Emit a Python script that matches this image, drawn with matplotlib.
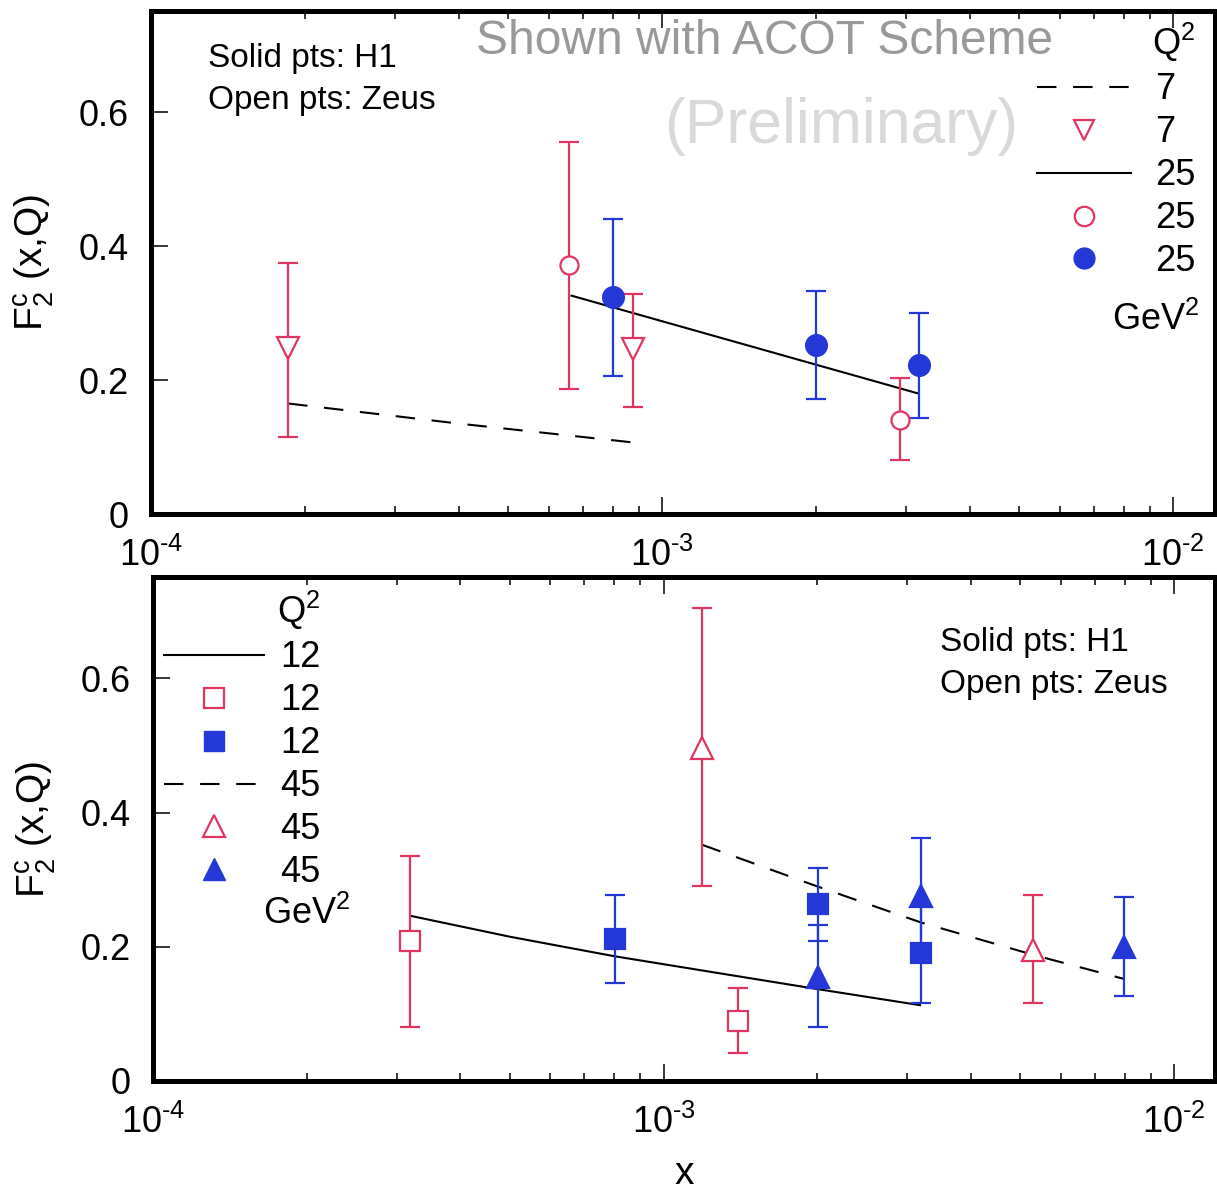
import numpy as np
import matplotlib
matplotlib.use("Agg")
import matplotlib.pyplot as plt
from matplotlib.lines import Line2D
from matplotlib.ticker import LogLocator, FixedLocator, NullFormatter, FuncFormatter

plt.rcParams['font.family'] = ['Liberation Sans', 'DejaVu Sans']
plt.rcParams['mathtext.fontset'] = 'custom'
plt.rcParams['mathtext.rm'] = 'Liberation Sans'
plt.rcParams['mathtext.it'] = 'Liberation Sans:italic'
plt.rcParams['mathtext.default'] = 'regular'
plt.rcParams['lines.scale_dashes'] = False

RED = '#e0355f'
BLUE = '#2338d6'

# ---- top panel data ----
# Zeus, Q2 = 7
z7_x = [1.855e-4, 8.79e-4]
z7_y = [0.248, 0.247]
z7_lo = [0.115, 0.160]
z7_hi = [0.375, 0.329]
# Zeus, Q2 = 25
z25_x = [6.59e-4, 2.92e-3]
z25_y = [0.372, 0.141]
z25_lo = [0.186, 0.080]
z25_hi = [0.556, 0.203]
# H1, Q2 = 25
h25_x = [8.0e-4, 2.0e-3, 3.19e-3]
h25_y = [0.324, 0.253, 0.222]
h25_lo = [0.206, 0.172, 0.143]
h25_hi = [0.441, 0.333, 0.300]
# ACOT curves
t7_x = [1.855e-4, 4.0e-4, 8.74e-4]
t7_y = [0.165, 0.135, 0.107]
t25_x = [6.65e-4, 2.0e-3, 3.17e-3]
t25_y = [0.326, 0.223, 0.180]

# ---- bottom panel data ----
# Zeus, Q2 = 12
z12_x = [3.19e-4, 1.40e-3]
z12_y = [0.208, 0.090]
z12_lo = [0.080, 0.042]
z12_hi = [0.336, 0.138]
# H1, Q2 = 12
h12_x = [8.04e-4, 2.005e-3, 3.2e-3]
h12_y = [0.211, 0.263, 0.190]
h12_lo = [0.146, 0.208, 0.116]
h12_hi = [0.277, 0.318, 0.264]
# Zeus, Q2 = 45
z45_x = [1.188e-3, 5.29e-3]
z45_y = [0.496, 0.195]
z45_lo = [0.290, 0.116]
z45_hi = [0.705, 0.277]
# H1, Q2 = 45
h45_x = [2.005e-3, 3.2e-3, 7.99e-3]
h45_y = [0.155, 0.275, 0.199]
h45_lo = [0.080, 0.184, 0.126]
h45_hi = [0.232, 0.362, 0.274]
# ACOT curves
t12_x = [3.2e-4, 5.0e-4, 8.0e-4, 1.3e-3, 2.0e-3, 3.18e-3]
t12_y = [0.246, 0.215, 0.186, 0.160, 0.137, 0.113]
t45_x = [1.19e-3, 2.0e-3, 3.2e-3, 5.3e-3, 7.99e-3]
t45_y = [0.352, 0.290, 0.236, 0.188, 0.152]

ytick_vals = [0, 0.2, 0.4, 0.6]
ytick_labels = ['0', '0.2', '0.4', '0.6']

W, H = 1217, 1192
fig = plt.figure(figsize=(W / 100, H / 100), dpi=100)

FS = 26
DASH = (0, (14, 12))


def fx(px):
    return px / W


def fy(py):
    return 1 - py / H


def errpts(ax, x, y, lo, hi, marker, color, filled, ms):
    y = np.array(y)
    yerr = [y - np.array(lo), np.array(hi) - y]
    ax.errorbar(x, y, yerr=yerr, fmt=marker, color=color, ms=ms,
                mfc=color if filled else 'white', mec=color, mew=1.6,
                elinewidth=1.6, capsize=7, capthick=1.6, zorder=3)


def style(ax, xlim):
    ax.set_xscale('log')
    ax.set_xlim(*xlim)
    ax.set_ylim(0, 0.751)
    for s in ax.spines.values():
        s.set_linewidth(3.6)
    ax.xaxis.set_major_locator(FixedLocator([1e-4, 1e-3, 1e-2]))
    ax.xaxis.set_minor_locator(LogLocator(base=10, subs=np.arange(2, 10)))
    ax.xaxis.set_minor_formatter(NullFormatter())
    ax.xaxis.set_major_formatter(FuncFormatter(
        lambda v, p: '10$^{\\text{%d}}$' % int(round(np.log10(v)))))
    ax.set_yticks(ytick_vals)
    ax.set_yticklabels(ytick_labels)
    ax.yaxis.set_minor_locator(FixedLocator([]))
    ax.tick_params(axis='x', which='major', direction='in', top=True,
                   length=12, width=1.1, pad=17, labelsize=FS)
    ax.tick_params(axis='x', which='minor', direction='in', top=True,
                   length=6, width=1.1)
    ax.tick_params(axis='y', which='major', direction='in', right=False,
                   length=12, width=1.1, pad=16, labelsize=FS)
    ax.set_ylabel('F$_2^c$ (x,Q)', fontsize=28, labelpad=16)


# ---------------- top panel ----------------
ax1 = fig.add_axes([fx(151), fy(514), fx(1215 - 151), (514 - 11) / H])
style(ax1, (1e-4, 1.208e-2))
ax1.plot(t7_x, t7_y, color='black', lw=1.5, ls=DASH, zorder=2)
ax1.plot(t25_x, t25_y, color='black', lw=1.5, zorder=2)
errpts(ax1, z7_x, z7_y, z7_lo, z7_hi, 'v', RED, False, 16)
errpts(ax1, z25_x, z25_y, z25_lo, z25_hi, 'o', RED, False, 13)
errpts(ax1, h25_x, h25_y, h25_lo, h25_hi, 'o', BLUE, True, 15)

h_top = [
    Line2D([], [], color='black', lw=1.5, ls=DASH),
    Line2D([], [], ls='none', marker='v', ms=15, mfc='white', mec=RED, mew=1.6),
    Line2D([], [], color='black', lw=1.5),
    Line2D([], [], ls='none', marker='o', ms=14, mfc='white', mec=RED, mew=1.6),
    Line2D([], [], ls='none', marker='o', ms=15, mfc=BLUE, mec=BLUE),
]
leg1 = ax1.legend(h_top, ['7', '7', '25', '25', '25'], title='Q$^2$',
                  loc='upper right', bbox_to_anchor=(1.005, 1.03),
                  frameon=False, fontsize=FS, title_fontsize=FS,
                  handlelength=2.6, handletextpad=0.65, labelspacing=0.22,
                  borderpad=0.2, alignment='right')
fig.text(fx(1199), fy(320), 'GeV$^2$', fontsize=FS, ha='right', va='center')
fig.text(fx(208), fy(59), 'Solid pts: H1', fontsize=24, ha='left', va='center')
fig.text(fx(208), fy(100), 'Open pts: Zeus', fontsize=24, ha='left', va='center')
fig.text(fx(476), fy(42), 'Shown with ACOT Scheme', fontsize=34.5,
         color='#999999', ha='left', va='center')
fig.text(fx(664), fy(127), '(Preliminary)', fontsize=45,
         color='#d9d9d9', ha='left', va='center')

# ---------------- bottom panel ----------------
ax2 = fig.add_axes([fx(153), fy(1081), fx(1215 - 153), (1081 - 577) / H])
style(ax2, (1e-4, 1.203e-2))
ax2.plot(t12_x, t12_y, color='black', lw=1.5, zorder=2)
ax2.plot(t45_x, t45_y, color='black', lw=1.5, ls=DASH, zorder=2)
errpts(ax2, z12_x, z12_y, z12_lo, z12_hi, 's', RED, False, 14)
errpts(ax2, h12_x, h12_y, h12_lo, h12_hi, 's', BLUE, True, 15)
errpts(ax2, z45_x, z45_y, z45_lo, z45_hi, '^', RED, False, 16)
errpts(ax2, h45_x, h45_y, h45_lo, h45_hi, '^', BLUE, True, 16)
ax2.set_xlabel('x', fontsize=28, labelpad=11)

h_bot = [
    Line2D([], [], color='black', lw=1.5),
    Line2D([], [], ls='none', marker='s', ms=14, mfc='white', mec=RED, mew=1.6),
    Line2D([], [], ls='none', marker='s', ms=14, mfc=BLUE, mec=BLUE),
    Line2D([], [], color='black', lw=1.5, ls=DASH),
    Line2D([], [], ls='none', marker='^', ms=16, mfc='white', mec=RED, mew=1.6),
    Line2D([], [], ls='none', marker='^', ms=16, mfc=BLUE, mec=BLUE),
]
leg2 = ax2.legend(h_bot, ['12', '12', '12', '45', '45', '45'], title='Q$^2$',
                  loc='upper left', bbox_to_anchor=(-0.013, 1.026),
                  frameon=False, fontsize=FS, title_fontsize=FS,
                  handlelength=2.75, handletextpad=0.45, labelspacing=0.22,
                  borderpad=0.2, alignment='right')
fig.text(fx(263), fy(914), 'GeV$^2$', fontsize=FS, ha='left', va='center')
fig.text(fx(940), fy(643), 'Solid pts: H1', fontsize=24, ha='left', va='center')
fig.text(fx(940), fy(685), 'Open pts: Zeus', fontsize=24, ha='left', va='center')

fig.savefig('out.png', dpi=100)
